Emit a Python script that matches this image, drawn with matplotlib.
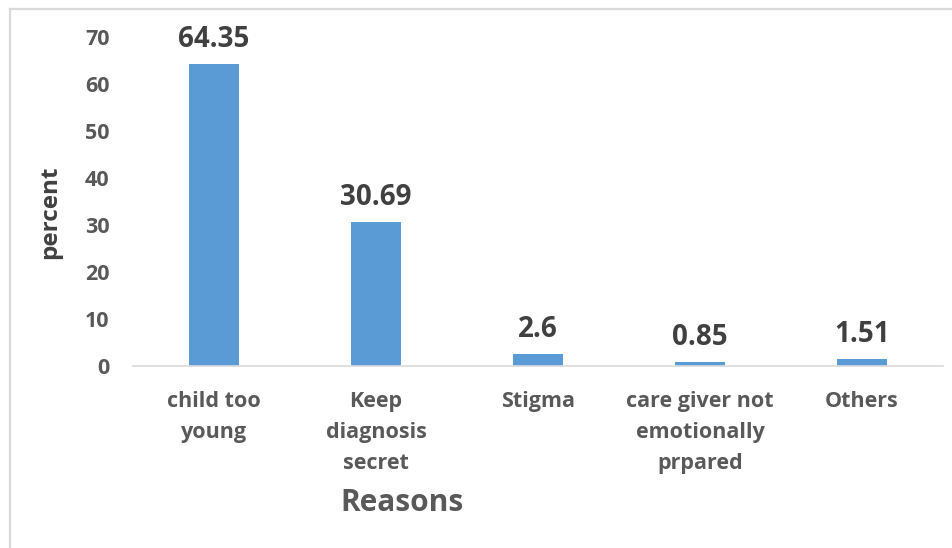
import matplotlib
matplotlib.use("Agg")
import matplotlib.pyplot as plt
from matplotlib.lines import Line2D

categories = ["child too\nyoung", "Keep\ndiagnosis\nsecret", "Stigma",
              "care giver not\nemotionally\nprpared", "Others"]
values = [64.35, 30.69, 2.6, 0.85, 1.51]
value_labels = ["64.35", "30.69", "2.6", "0.85", "1.51"]
yticks = [0, 10, 20, 30, 40, 50, 60, 70]

plt.rcParams['font.family'] = ['Open Sans', 'DejaVu Sans']

fig = plt.figure(figsize=(9.53, 5.48), dpi=100)
fig.patch.set_facecolor('white')
ax = fig.add_axes([133/953, 1-366/548, (943-133)/953, (366-37)/548])

x = list(range(len(categories)))
ax.bar(x, values, width=0.31, color='#5B9BD5')
ax.set_xlim(-0.5, len(categories)-0.5)
ax.set_ylim(0, 70)
ax.set_yticks(yticks)
ax.set_yticklabels([str(t) for t in yticks], fontsize=15.5, fontweight='bold', color='#595959')
ax.set_xticks(x)
ax.set_xticklabels(categories, fontsize=15.5, fontweight='bold', color='#595959', linespacing=1.62)
ax.tick_params(axis='y', length=0, pad=17)
ax.tick_params(axis='x', length=0, pad=18)
for s in ['top', 'right', 'left']:
    ax.spines[s].set_visible(False)
ax.spines['bottom'].set_color('#D9D9D9')
ax.spines['bottom'].set_linewidth(1.2)

for xi, v, lab in zip(x, values, value_labels):
    ax.annotate(lab, (xi, v), xytext=(0, 7), textcoords='offset points',
                ha='center', va='bottom', fontsize=20, fontweight='bold', color='#404040')

ax.set_xlabel("Reasons", fontsize=21.5, fontweight='bold', color='#595959',
              va='center', ha='center')
ax.xaxis.set_label_coords((402-133)/810, (366-503)/329)
ax.set_ylabel("percent", fontsize=17.5, fontweight='bold', color='#404040',
              va='center', ha='center')
ax.yaxis.set_label_coords((50-133)/810, (366-212)/329)

fig.add_artist(Line2D([10/953, 10/953], [0, 1-9/548], transform=fig.transFigure,
                      color='#D9D9D9', linewidth=1.6))
fig.add_artist(Line2D([10/953, 1], [1-9/548, 1-9/548], transform=fig.transFigure,
                      color='#D9D9D9', linewidth=1.6))

fig.savefig("out.png", dpi=100, facecolor='white')
